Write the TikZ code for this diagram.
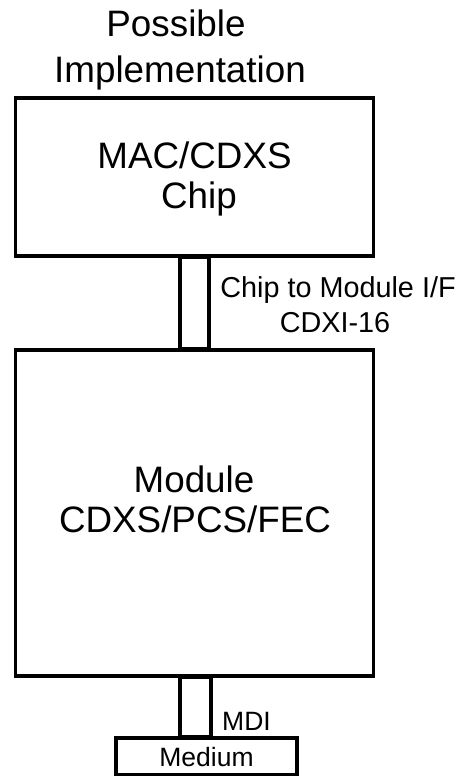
\documentclass[tikz,border=0pt]{standalone}
\usepackage{fontspec}
\setmainfont{Liberation Sans}
\usetikzlibrary{calc}
\begin{document}
\begin{tikzpicture}[x=1pt,y=-1pt,
  blk/.style={draw=black,line width=3.4pt,rectangle,inner sep=0pt,fill=white},
  big/.style={inner sep=0pt,anchor=base,font=\fontsize{36.8}{42}\selectfont},
  lbl/.style={inner sep=0pt,anchor=base,font=\fontsize{28.8}{33}\selectfont},
  sml/.style={inner sep=0pt,anchor=base,font=\fontsize{26.5}{30}\selectfont}]
\useasboundingbox (0,0) rectangle (460,776);
% title
\node[big] (t1) at (176,37) {Possible};
\node[big] (t2) at (180,82) {Implementation};
% blocks
\node[blk,minimum width=358pt,minimum height=158pt] (mac) at (194.5,177) {};
\node[blk,minimum width=358pt,minimum height=326pt] (module) at (194.5,513) {};
\node[blk,minimum width=181pt,minimum height=37pt] (medium) at (206.5,756.5) {};
% bars
\draw[line width=3.2pt] ($(mac.south)+(-14.5,0)$) rectangle ($(module.north)+(14.5,0)$);
\draw[line width=3.2pt] ($(module.south)+(-14.5,0)$) rectangle ($(medium.north)+(4.5,0)$);
% texts
\node[big] (m1) at (194.5,168) {MAC/CDXS};
\node[big] (m2) at (199,208) {Chip};
\node[big] (d1) at (194,492) {Module};
\node[big] (d2) at (195,532) {CDXS/PCS/FEC};
\node[lbl] (c1) at (338,297) {Chip to Module I/F};
\node[lbl] (c2) at (335,332) {CDXI-16};
\node[sml,anchor=base west] (mdi) at (222,730) {MDI};
\node[sml] (med) at (206.5,766) {Medium};
\end{tikzpicture}
\end{document}
